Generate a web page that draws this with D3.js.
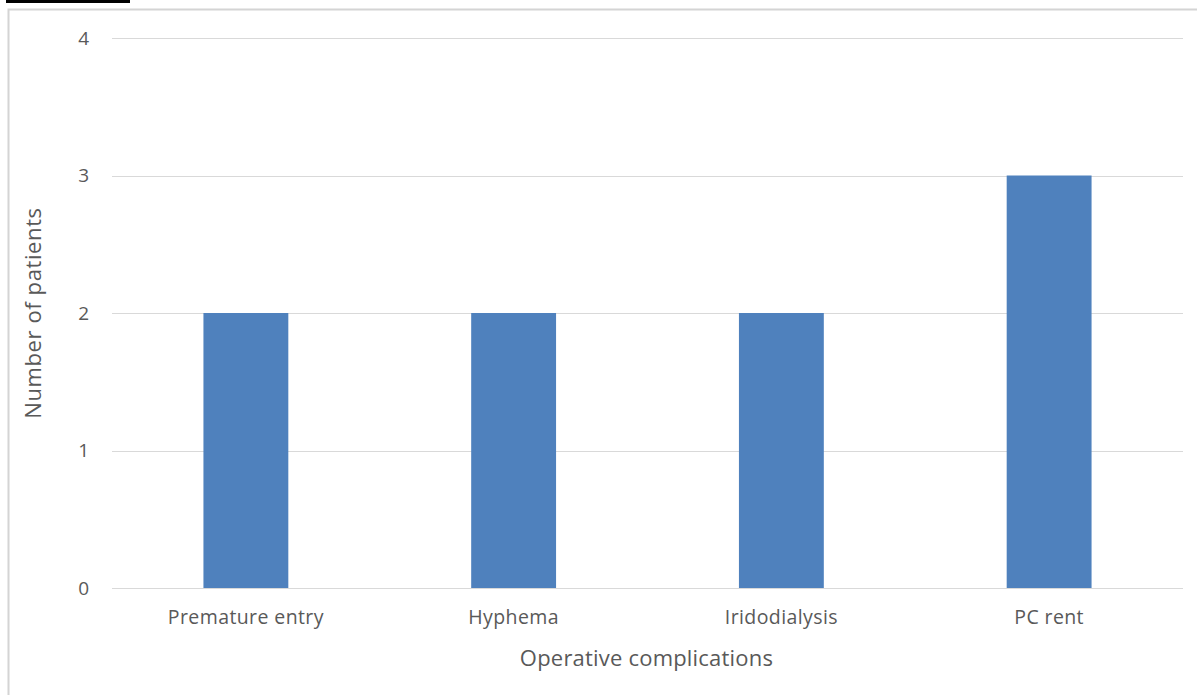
<!DOCTYPE html>
<html><head><meta charset="utf-8">
<script src="https://cdn.jsdelivr.net/npm/d3@7"></script>
<style>body{margin:0;background:#fff;} svg{display:block;}</style>
</head><body>
<script>
const categories = ["Premature entry", "Hyphema", "Iridodialysis", "PC rent"];
const values = [2, 2, 2, 3];
const yTicks = [0, 1, 2, 3, 4];
const xTitle = "Operative complications";
const yTitle = "Number of patients";

(function () {
const W = 1197, H = 695;
const svg = d3.select("body").append("svg").attr("width", W).attr("height", H);
const font = "'Open Sans', sans-serif";

// caption underline fragment (cropped caption above)
svg.append("rect").attr("x", 6).attr("y", 0).attr("width", 124).attr("height", 3).attr("fill", "#000");

// chart frame
svg.append("rect").attr("x", 8.5).attr("y", 9.5).attr("width", W + 10).attr("height", H + 10)
  .attr("fill", "none").attr("stroke", "#d4d4d4").attr("stroke-width", 2);

const pLeft = 112, pRight = 1183, pTop = 38, pBottom = 588;
const x = d3.scaleBand().domain(categories).range([pLeft, pRight]).paddingInner(0.683).paddingOuter(0.683 / 2);
const y = d3.scaleLinear().domain([0, 4]).range([pBottom, pTop]);

// gridlines
svg.append("g").selectAll("line").data(yTicks).join("line")
  .attr("x1", pLeft).attr("x2", pRight)
  .attr("y1", d => Math.round(y(d)) + 0.5).attr("y2", d => Math.round(y(d)) + 0.5)
  .attr("stroke", "#d9d9d9").attr("stroke-width", 1);

// y tick labels
svg.append("g").selectAll("text").data(yTicks).join("text")
  .attr("x", 89).attr("y", d => y(d)).attr("dy", "0.36em")
  .attr("text-anchor", "end").attr("font-family", font).attr("font-size", 19)
  .attr("fill", "#595959").text(d => d);

// bars
svg.append("g").selectAll("rect").data(values).join("rect")
  .attr("x", (d, i) => x(categories[i])).attr("width", x.bandwidth())
  .attr("y", d => y(d)).attr("height", d => y(0) - y(d))
  .attr("fill", "#4f81bd");

// x labels
svg.append("g").selectAll("text").data(categories).join("text")
  .attr("x", d => x(d) + x.bandwidth() / 2).attr("y", 624)
  .attr("text-anchor", "middle").attr("font-family", font).attr("font-size", 19.5)
  .attr("letter-spacing", 0.4)
  .attr("fill", "#595959").text(d => d);

// axis titles
svg.append("text").attr("x", (pLeft + pRight) / 2 - 1).attr("y", 666)
  .attr("text-anchor", "middle").attr("font-family", font).attr("font-size", 22)
  .attr("letter-spacing", 0.2)
  .attr("fill", "#595959").text(xTitle);

svg.append("text").attr("transform", `translate(41,${(pTop + pBottom) / 2}) rotate(-90)`)
  .attr("text-anchor", "middle").attr("font-family", font).attr("font-size", 22)
  .attr("letter-spacing", 0.6)
  .attr("fill", "#595959").text(yTitle);
})();
</script>
</body></html>
